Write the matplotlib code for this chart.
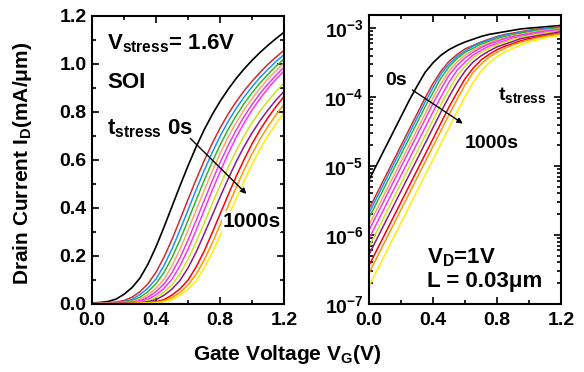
"""Courbes Id-Vg sous stress (lineaire + log), SOI, L = 0.03 um."""

import matplotlib

matplotlib.use("Agg")
import matplotlib.pyplot as plt
import numpy as np
from matplotlib.ticker import FormatStrFormatter, LogLocator, MultipleLocator, NullFormatter

plt.rcParams["font.family"] = ["Liberation Sans", "DejaVu Sans"]
plt.rcParams["font.weight"] = "bold"
plt.rcParams["mathtext.fontset"] = "custom"
plt.rcParams["mathtext.rm"] = "Liberation Sans:bold"
plt.rcParams["mathtext.bf"] = "Liberation Sans:bold"
plt.rcParams["mathtext.it"] = "Liberation Sans:bold"
plt.rcParams["mathtext.default"] = "rm"

# Tension de grille (V)
VG = [0.00, 0.05, 0.10, 0.15, 0.20, 0.25, 0.30, 0.35, 0.40, 0.45, 0.50, 0.55, 0.60,
      0.65, 0.70, 0.75, 0.80, 0.85, 0.90, 0.95, 1.00, 1.05, 1.10, 1.15, 1.20]

# Panneau gauche : Id en mA/um (echelle lineaire)
LIN_FRESH = [0.004, 0.006, 0.010, 0.020, 0.040, 0.068, 0.108, 0.166, 0.238, 0.320, 0.406, 0.492, 0.575,
             0.653, 0.724, 0.787, 0.843, 0.893, 0.938, 0.978, 1.014, 1.047, 1.077, 1.105, 1.131]
LIN_01 = [0.002, 0.003, 0.005, 0.008, 0.014, 0.028, 0.051, 0.084, 0.132, 0.195, 0.269, 0.351, 0.435,
          0.517, 0.595, 0.667, 0.732, 0.790, 0.841, 0.887, 0.927, 0.964, 0.998, 1.028, 1.056]
LIN_02 = [0.002, 0.003, 0.004, 0.006, 0.010, 0.019, 0.039, 0.066, 0.104, 0.160, 0.229, 0.308, 0.391,
          0.474, 0.554, 0.629, 0.698, 0.759, 0.813, 0.861, 0.904, 0.943, 0.977, 1.009, 1.038]
LIN_03 = [0.002, 0.002, 0.003, 0.005, 0.008, 0.013, 0.028, 0.051, 0.084, 0.131, 0.193, 0.267, 0.348,
          0.431, 0.513, 0.590, 0.661, 0.726, 0.783, 0.834, 0.879, 0.920, 0.956, 0.990, 1.020]
LIN_04 = [0.001, 0.002, 0.003, 0.004, 0.006, 0.010, 0.019, 0.038, 0.065, 0.103, 0.159, 0.228, 0.307,
          0.389, 0.471, 0.551, 0.626, 0.694, 0.754, 0.808, 0.855, 0.899, 0.937, 0.971, 1.003]
LIN_05 = [0.001, 0.002, 0.002, 0.003, 0.005, 0.008, 0.013, 0.028, 0.051, 0.083, 0.130, 0.192, 0.266,
          0.347, 0.429, 0.511, 0.588, 0.659, 0.723, 0.780, 0.831, 0.876, 0.916, 0.952, 0.986]
LIN_06 = [0.001, 0.001, 0.002, 0.003, 0.004, 0.006, 0.010, 0.019, 0.038, 0.065, 0.103, 0.159, 0.228,
          0.306, 0.389, 0.471, 0.550, 0.625, 0.693, 0.753, 0.807, 0.855, 0.898, 0.936, 0.970]
LIN_07 = [0.001, 0.001, 0.002, 0.002, 0.003, 0.005, 0.007, 0.013, 0.027, 0.049, 0.080, 0.126, 0.186,
          0.257, 0.335, 0.415, 0.493, 0.568, 0.637, 0.699, 0.754, 0.803, 0.846, 0.885, 0.920]
LIN_08 = [0.001, 0.001, 0.001, 0.002, 0.003, 0.004, 0.005, 0.009, 0.018, 0.036, 0.062, 0.098, 0.150,
          0.215, 0.290, 0.367, 0.445, 0.520, 0.591, 0.655, 0.712, 0.763, 0.808, 0.849, 0.885]
LIN_09 = [0.001, 0.001, 0.001, 0.001, 0.002, 0.003, 0.004, 0.006, 0.009, 0.018, 0.037, 0.063, 0.099,
          0.153, 0.219, 0.295, 0.374, 0.453, 0.530, 0.601, 0.667, 0.725, 0.776, 0.822, 0.864]
LIN_10 = [0.000, 0.001, 0.001, 0.001, 0.002, 0.002, 0.003, 0.005, 0.007, 0.013, 0.026, 0.048, 0.079,
          0.123, 0.182, 0.252, 0.329, 0.407, 0.484, 0.558, 0.625, 0.686, 0.740, 0.788, 0.831]
LIN_11 = [0.000, 0.001, 0.001, 0.001, 0.001, 0.002, 0.003, 0.004, 0.005, 0.009, 0.018, 0.036, 0.061,
          0.096, 0.148, 0.212, 0.285, 0.362, 0.438, 0.512, 0.582, 0.645, 0.701, 0.751, 0.796]

# Panneau droit : log10(Id) avec Id en A/um
LOG_FRESH = [-5.20, -4.97, -4.74, -4.51, -4.28, -4.05, -3.84, -3.64, -3.50, -3.39, -3.31, -3.25, -3.20,
             -3.16, -3.12, -3.09, -3.07, -3.05, -3.03, -3.01, -3.00, -2.99, -2.98, -2.97, -2.96]
LOG_01 = [-5.62, -5.39, -5.16, -4.93, -4.70, -4.47, -4.24, -4.01, -3.80, -3.62, -3.48, -3.38, -3.30,
          -3.25, -3.20, -3.16, -3.12, -3.09, -3.07, -3.05, -3.03, -3.01, -3.00, -2.99, -2.98]
LOG_02 = [-5.68, -5.45, -5.22, -4.99, -4.76, -4.53, -4.30, -4.07, -3.86, -3.66, -3.52, -3.41, -3.33,
          -3.26, -3.21, -3.17, -3.13, -3.10, -3.08, -3.06, -3.04, -3.02, -3.01, -3.00, -2.99]
LOG_03 = [-5.75, -5.52, -5.29, -5.06, -4.83, -4.60, -4.37, -4.14, -3.93, -3.72, -3.56, -3.44, -3.35,
          -3.29, -3.23, -3.19, -3.15, -3.12, -3.09, -3.07, -3.05, -3.03, -3.02, -3.01, -3.00]
LOG_04 = [-5.85, -5.62, -5.39, -5.16, -4.93, -4.70, -4.47, -4.24, -4.01, -3.80, -3.62, -3.49, -3.39,
          -3.32, -3.26, -3.21, -3.17, -3.14, -3.11, -3.09, -3.07, -3.05, -3.03, -3.02, -3.01]
LOG_05 = [-5.93, -5.70, -5.47, -5.24, -5.01, -4.78, -4.55, -4.32, -4.09, -3.88, -3.68, -3.54, -3.43,
          -3.35, -3.28, -3.23, -3.19, -3.15, -3.12, -3.10, -3.08, -3.06, -3.04, -3.03, -3.02]
LOG_06 = [-6.05, -5.82, -5.59, -5.36, -5.13, -4.90, -4.67, -4.44, -4.21, -3.99, -3.78, -3.61, -3.49,
          -3.39, -3.32, -3.26, -3.22, -3.18, -3.14, -3.12, -3.10, -3.08, -3.06, -3.04, -3.03]
LOG_07 = [-6.17, -5.94, -5.71, -5.48, -5.25, -5.02, -4.79, -4.56, -4.33, -4.10, -3.89, -3.69, -3.55,
          -3.43, -3.35, -3.29, -3.24, -3.20, -3.16, -3.13, -3.11, -3.09, -3.07, -3.05, -3.04]
LOG_08 = [-6.28, -6.05, -5.82, -5.59, -5.36, -5.13, -4.90, -4.67, -4.44, -4.21, -3.99, -3.79, -3.62,
          -3.49, -3.40, -3.33, -3.27, -3.23, -3.19, -3.15, -3.13, -3.11, -3.09, -3.07, -3.05]
LOG_09 = [-6.44, -6.21, -5.98, -5.75, -5.52, -5.29, -5.06, -4.83, -4.60, -4.37, -4.14, -3.93, -3.73,
          -3.58, -3.46, -3.38, -3.31, -3.26, -3.22, -3.18, -3.15, -3.13, -3.11, -3.09, -3.07]
LOG_10 = [-6.55, -6.32, -6.09, -5.86, -5.63, -5.40, -5.17, -4.94, -4.71, -4.48, -4.25, -4.03, -3.82,
          -3.64, -3.52, -3.42, -3.35, -3.29, -3.24, -3.20, -3.17, -3.14, -3.12, -3.10, -3.08]
LOG_11 = [-6.74, -6.51, -6.28, -6.05, -5.82, -5.59, -5.36, -5.13, -4.90, -4.67, -4.44, -4.21, -3.99,
          -3.79, -3.62, -3.50, -3.41, -3.34, -3.29, -3.24, -3.20, -3.17, -3.14, -3.12, -3.10]

COLORS = ["#d42a2a", "#1e90ff", "#2db82d", "#ffa366", "#e040e0", "#ff33ff",
          "#c8e619", "#8b1a8b", "#ff0000", "#ff9900", "#ffee00"]

LIN_CURVES = [LIN_01, LIN_02, LIN_03, LIN_04, LIN_05, LIN_06, LIN_07, LIN_08, LIN_09, LIN_10, LIN_11]
LOG_CURVES = [LOG_01, LOG_02, LOG_03, LOG_04, LOG_05, LOG_06, LOG_07, LOG_08, LOG_09, LOG_10, LOG_11]


def _style(ax):
    """Ticks rentrants sur les quatre cotes, cadre epais."""
    for s in ax.spines.values():
        s.set_linewidth(1.5)
    ax.tick_params(which="both", direction="in", top=True, right=True, width=1.2, labelsize=14)
    ax.tick_params(which="major", length=5)
    ax.tick_params(which="minor", length=3)
    ax.tick_params(axis="x", pad=6)
    ax.tick_params(axis="y", pad=4)
    ax.set_xlim(0, 1.2)
    ax.xaxis.set_major_locator(MultipleLocator(0.4))
    ax.xaxis.set_minor_locator(MultipleLocator(0.2))
    ax.xaxis.set_major_formatter(FormatStrFormatter("%.1f"))


fig = plt.figure(figsize=(5.84, 3.72), dpi=100)
ax1 = fig.add_axes([0.1575, 0.183, 0.329, 0.775])
ax2 = fig.add_axes([0.632, 0.183, 0.329, 0.776])

# --- panneau lineaire
ax1.plot(VG, LIN_FRESH, color="black", lw=1.2)
for y, c in zip(LIN_CURVES, COLORS):
    ax1.plot(VG, y, color=c, lw=1.1)
_style(ax1)
ax1.set_ylim(0, 1.2)
ax1.yaxis.set_major_locator(MultipleLocator(0.2))
ax1.yaxis.set_minor_locator(MultipleLocator(0.1))
ax1.yaxis.set_major_formatter(FormatStrFormatter("%.1f"))

ax1.text(0.094, 1.058, "V$_{\\rm stress}$= 1.6V", fontsize=16)
ax1.text(0.094, 0.90, "SOI", fontsize=16)
ax1.text(0.094, 0.704, "t$_{\\rm stress}$ 0s", fontsize=16)
# le fond blanc masque les courbes mais reste sous le cadre
ax1.text(0.815, 0.32, "1000s", fontsize=15, zorder=2.2,
         bbox=dict(facecolor="white", edgecolor="none", pad=0.5))
ax1.annotate("", xy=(0.977, 0.45), xytext=(0.602, 0.697),
             arrowprops=dict(arrowstyle="-|>", color="black", lw=1.0, mutation_scale=8))

# --- panneau logarithmique
ax2.plot(VG, 10 ** np.array(LOG_FRESH), color="black", lw=1.2)
for y, c in zip(LOG_CURVES, COLORS):
    ax2.plot(VG, 10 ** np.array(y), color=c, lw=1.1)
_style(ax2)
ax2.set_yscale("log")
ax2.set_ylim(1e-7, 1.54e-3)
ax2.yaxis.set_major_locator(LogLocator(base=10, numticks=10))
ax2.yaxis.set_minor_locator(LogLocator(base=10, subs=np.arange(2, 10), numticks=20))
ax2.yaxis.set_minor_formatter(NullFormatter())

ax2.text(0.10, 10 ** -3.826, "0s", fontsize=14)
ax2.text(0.806, 10 ** -4.04, "t$_{\\rm stress}$", fontsize=14)
ax2.text(0.60, 10 ** -4.74, "1000s", fontsize=14)
ax2.text(0.3625, 10 ** -6.406, "V$_{\\rm D}$=1V", fontsize=16)
ax2.text(0.3625, 10 ** -6.754, "L = 0.03μm", fontsize=16)
ax2.annotate("", xy=(0.60, 10 ** -4.406), xytext=(0.256, 10 ** -3.874),
             arrowprops=dict(arrowstyle="-|>", color="black", lw=1.0, mutation_scale=8))

# --- titres d'axes communs
fig.text(0.0385, 0.562, "Drain Current I$_{\\rm D}$(mA/μm)", rotation=90,
         ha="center", va="center", fontsize=15)
fig.text(0.4914, 0.032, "Gate Voltage V$_{\\rm G}$(V)", ha="center", va="baseline", fontsize=15)

fig.savefig("out.png", dpi=100)
plt.close(fig)
